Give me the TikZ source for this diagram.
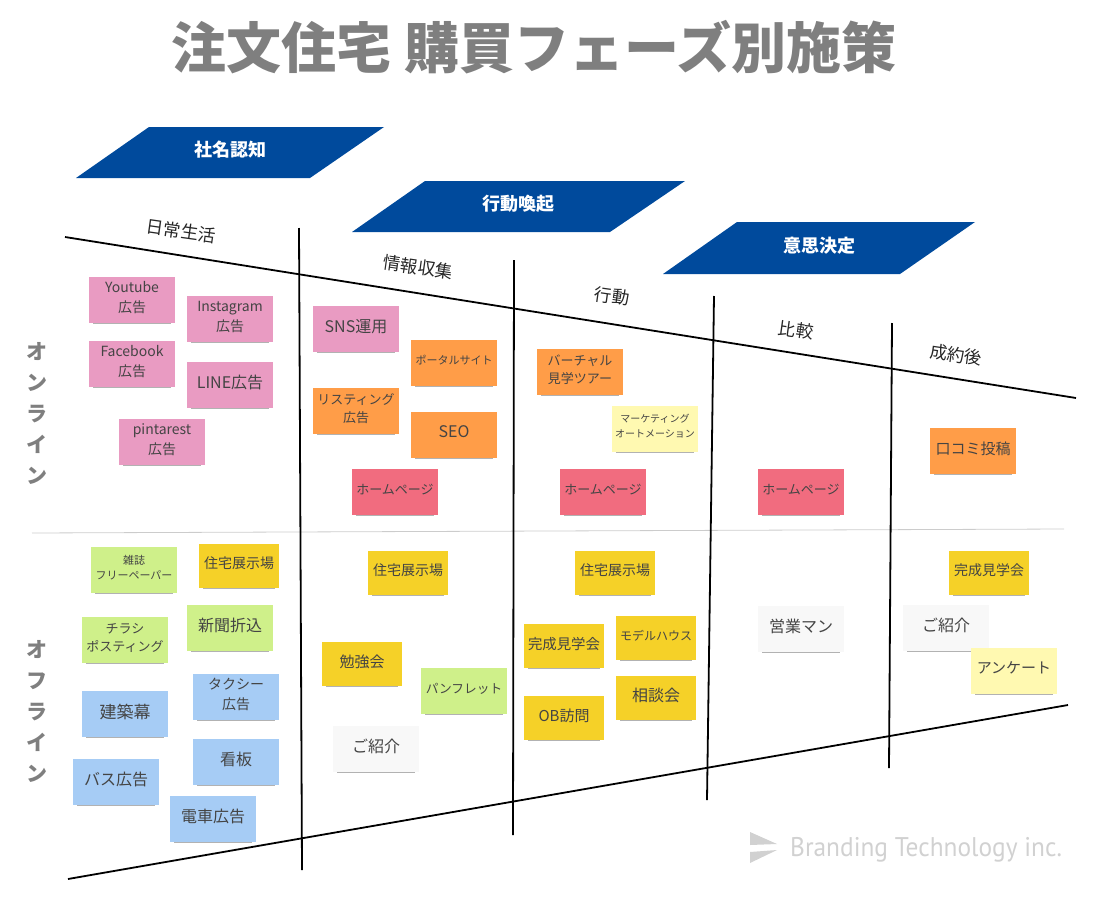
\documentclass[tikz,border=0pt]{standalone}
\usepackage{fontspec}
\setmainfont{Open Sans}
\newfontfamily\jpfont{Noto Sans CJK JP}
\newfontfamily\logofont{PT Sans}
\usetikzlibrary{shadows}
\definecolor{bannerblue}{HTML}{004A9C}
\definecolor{notepink}{HTML}{E99BC2}
\definecolor{noteorange}{HTML}{FF9D48}
\definecolor{notered}{HTML}{F16C7F}
\definecolor{noteyellow}{HTML}{F5D128}
\definecolor{notegreen}{HTML}{CFF08A}
\definecolor{noteblue}{HTML}{A6CCF5}
\definecolor{notepale}{HTML}{FFF9B1}
\definecolor{notewhite}{HTML}{F8F8F8}
\definecolor{titlegray}{HTML}{7F7F7F}
\definecolor{notetext}{HTML}{444444}
\newcommand{\fs}[2]{\jpfont\fontsize{#1}{#2}\selectfont}
\tikzset{
  note/.style={minimum width=86pt,minimum height=46pt,inner sep=0pt,align=center,
    text=notetext,text depth=6pt,font=\fs{14}{20},
    drop shadow={shadow xshift=0pt,shadow yshift=-3.2pt,shadow scale=.9,opacity=.3,fill=black}},
  small/.style={minimum width=80pt,minimum height=44pt},
  pink/.style={note,fill=notepink},
  orange/.style={note,fill=noteorange},
  red/.style={note,fill=notered},
  yellow/.style={note,fill=noteyellow,small},
  green/.style={note,fill=notegreen},
  blue/.style={note,fill=noteblue},
  pale/.style={note,fill=notepale},
  white/.style={note,fill=notewhite},
  phase/.style={font=\fs{17.5}{20},text=black!85},
  banner/.style={font=\jpfont\bfseries\fontsize{18}{20}\selectfont,text=white},
  side/.style={font=\jpfont\bfseries\fontsize{21}{31}\selectfont,text=titlegray,align=center},
  axis/.style={line width=1.8pt,black}
}
\begin{document}
\begin{tikzpicture}[x=1pt,y=-1pt]
  \useasboundingbox (0,0) rectangle (1108,902);
  \node[font=\jpfont\bfseries\fontsize{55}{60}\selectfont,text=titlegray] (title) at (534,47) {注文住宅 購買フェーズ別施策};
  % banners
  \fill[bannerblue] (76,178) -- (149,127) -- (384,127) -- (310,178) -- cycle;
  \fill[bannerblue] (352,232) -- (425,181) -- (685,181) -- (610,232) -- cycle;
  \fill[bannerblue] (663,274) -- (737,222) -- (975,222) -- (900,274) -- cycle;
  \node[banner] (aware) at (230,150) {社名認知};
  \node[banner] (action) at (518,204) {行動喚起};
  \node[banner] (decide) at (819,246) {意思決定};
  % grid
  \coordinate (tl) at (65,237);  \coordinate (tr) at (1076,398);
  \coordinate (bl) at (68,879);  \coordinate (br) at (1068,705);
  \coordinate (ml) at (32,533);  \coordinate (mr) at (1064,529);
  \coordinate (a1) at (299,228); \coordinate (a2) at (302,870);
  \coordinate (b1) at (514,260); \coordinate (b2) at (513,835);
  \coordinate (c1) at (714,296); \coordinate (c2) at (707,800);
  \coordinate (d1) at (892,323); \coordinate (d2) at (889,768);
  \draw[black!20,line width=.8pt] (ml) -- (mr);
  \draw[axis] (tl) -- (tr);
  \draw[axis] (bl) -- (br);
  \draw[axis] (a1) -- (a2);
  \draw[axis] (b1) -- (b2);
  \draw[axis] (c1) -- (c2);
  \draw[axis] (d1) -- (d2);
  % phases
  \node[phase,rotate=-8] (daily) at (181,231) {日常生活};
  \node[phase,rotate=-8] (info) at (418,267) {情報収集};
  \node[phase,rotate=-8] (act) at (612,296) {行動};
  \node[phase,rotate=-8] (comp) at (796,330) {比較};
  \node[phase,rotate=-8] (after) at (956,355) {成約後};
  \node[side] (online) at (37,413) {オ\\ン\\ラ\\イ\\ン};
  \node[side] (offline) at (37,711) {オ\\フ\\ラ\\イ\\ン};
  % online notes
  \node[pink] (youtube) at (132,300) {Youtube\\広告};
  \node[pink] (insta) at (230,319) {Instagram\\広告};
  \node[pink] (fb) at (132,364) {Facebook\\広告};
  \node[pink,font=\fs{16}{20}] (line) at (230,385) {LINE広告};
  \node[pink] (pin) at (162,442) {pintarest\\広告};
  \node[pink,font=\fs{16}{20}] (sns) at (356,329) {SNS運用};
  \node[orange,font=\fs{11}{14}] (portal) at (454,363) {ポータルサイト};
  \node[orange,font=\fs{13}{18}] (listing) at (356,411) {リスティング\\広告};
  \node[orange,font=\fs{16}{18}] (seo) at (454,435) {SEO};
  \node[red,font=\fs{13}{18}] (hp1) at (395,492) {ホームページ};
  \node[orange,font=\fs{13}{18}] (virtual) at (580,372) {バーチャル\\見学ツアー};
  \node[pale,font=\fs{10}{15}] (ma) at (655,429) {マーケティング\\オートメーション};
  \node[red,font=\fs{13}{18}] (hp2) at (603,492) {ホームページ};
  \node[red,font=\fs{13}{18}] (hp3) at (801,492) {ホームページ};
  \node[orange,font=\fs{15}{18}] (review) at (973,451) {口コミ投稿};
  % offline notes
  \node[green,font=\fs{11}{15}] (zasshi) at (134,570) {雑誌\\フリーペーパー};
  \node[yellow] (ten1) at (239,566) {住宅展示場};
  \node[green,font=\fs{13}{18}] (flyer) at (125,640) {チラシ\\ポスティング};
  \node[green,font=\fs{16}{18}] (paper) at (230,628) {新聞折込};
  \node[blue,font=\fs{17}{18}] (maku) at (125,714) {建築幕};
  \node[blue] (taxi) at (236,697) {タクシー\\広告};
  \node[blue,font=\fs{16}{18}] (board) at (236,762) {看板};
  \node[blue,font=\fs{16}{18}] (bus) at (116,782) {バス広告};
  \node[blue,font=\fs{16}{18}] (train) at (213,819) {電車広告};
  \node[yellow] (ten2) at (408,573) {住宅展示場};
  \node[yellow,font=\fs{15}{18}] (study) at (362,664) {勉強会};
  \node[green,font=\fs{12.7}{18}] (pamph) at (464,691) {パンフレット};
  \node[white,font=\fs{16}{18}] (intro1) at (376,749) {ご紹介};
  \node[yellow] (ten3) at (615,573) {住宅展示場};
  \node[yellow,font=\fs{14.4}{18}] (kan1) at (564,646) {完成見学会};
  \node[yellow,font=\fs{12}{18}] (model) at (656,638) {モデルハウス};
  \node[yellow,font=\fs{16}{18}] (consult) at (656,698) {相談会};
  \node[yellow,font=\fs{15}{18}] (ob) at (564,718) {OB訪問};
  \node[white,font=\fs{16}{18}] (sales) at (801,629) {営業マン};
  \node[yellow] (kan2) at (989,573) {完成見学会};
  \node[white,font=\fs{16}{18}] (intro2) at (946,628) {ご紹介};
  \node[pale,font=\fs{15}{18}] (survey) at (1014,671) {アンケート};
  % logo
  \fill[black!18] (750,832) -- (777,844) -- (750,845) -- cycle;
  \fill[black!18] (750,852) -- (777,850) -- (750,863) -- cycle;
  \node[anchor=west,inner sep=0pt,text=black!18,font=\logofont\fontsize{27}{30}\selectfont,xscale=.94] (logo) at (790,850) {Branding Technology inc.};
\end{tikzpicture}
\end{document}
